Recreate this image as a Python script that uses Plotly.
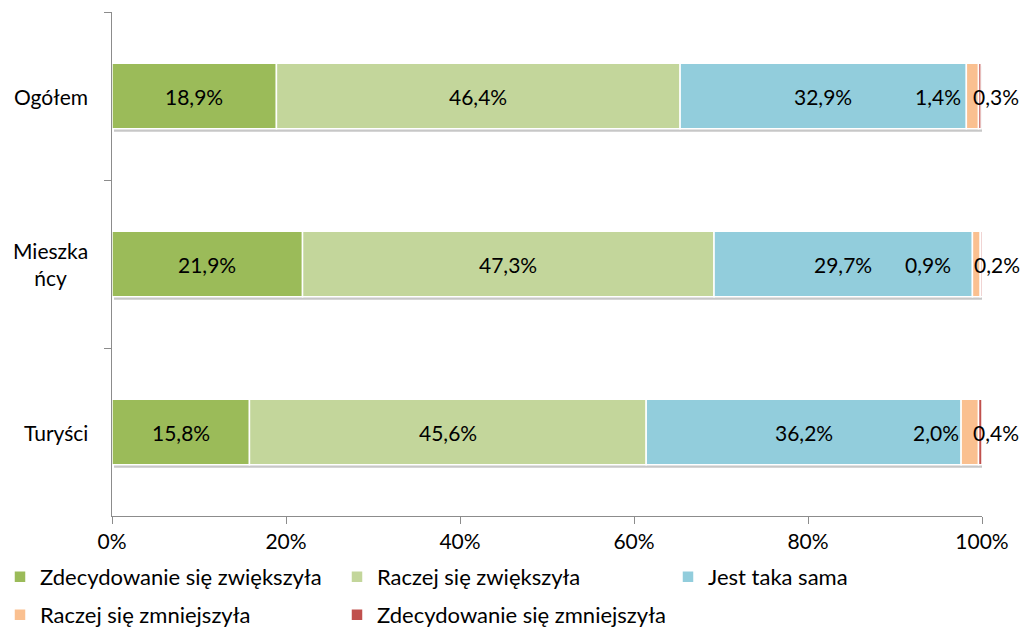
import plotly.graph_objects as go

# Category labels (top to bottom) and series shares in percent
categories = ["Ogółem", "Mieszka<br>ńcy", "Turyści"]
series_names = [
    "Zdecydowanie się zwiększyła",
    "Raczej się zwiększyła",
    "Jest taka sama",
    "Raczej się zmniejszyła",
    "Zdecydowanie się zmniejszyła",
]
zdecydowanie_zwiekszyla = [18.9, 21.9, 15.8]
raczej_zwiekszyla = [46.4, 47.3, 45.6]
taka_sama = [32.9, 29.7, 36.2]
raczej_zmniejszyla = [1.4, 0.9, 2.0]
zdecydowanie_zmniejszyla = [0.3, 0.2, 0.4]

x_ticks = [0, 20, 40, 60, 80, 100]

series_values = [
    zdecydowanie_zwiekszyla,
    raczej_zwiekszyla,
    taka_sama,
    raczej_zmniejszyla,
    zdecydowanie_zmniejszyla,
]
colors = ["#9BBB59", "#C3D69B", "#92CDDC", "#FAC090", "#C0504D"]
# legend block for each series: two rows, third column of the first row on its own
legend_slots = ["legend", "legend", "legend3", "legend2", "legend2"]

FONT = "Lato"
TXT = "#000000"
AXIS_GRAY = "#8C8C8C"
BAR_W = 0.39
PLOT_W, PLOT_H = 870, 504


def pct(v):
    return f"{v:.1f}".replace(".", ",") + "%"


n = len(categories)
totals = [sum(vals[i] for vals in series_values) for i in range(n)]

fig = go.Figure()

# Soft drop shadow under each full bar, nudged a few pixels right and down
fig.add_trace(go.Bar(
    y=categories,
    x=totals,
    base=[100 * 2 / PLOT_W] * n,
    orientation="h",
    width=BAR_W,
    offset=-BAR_W / 2 + 3 * n / PLOT_H,
    marker=dict(color="rgba(0,0,0,0.22)", line=dict(width=0)),
    showlegend=False,
    hoverinfo="skip",
))

# Stacked segments (bases accumulated from the series themselves)
cum = [0.0] * n
for name, vals, col, slot in zip(series_names, series_values, colors, legend_slots):
    fig.add_trace(go.Bar(
        y=categories,
        x=vals,
        base=list(cum),
        name=name,
        orientation="h",
        width=BAR_W,
        marker=dict(color=col, line=dict(color="white", width=1.5)),
        hoverinfo="skip",
        legend=slot,
    ))
    cum = [c + v for c, v in zip(cum, vals)]

# Data labels: the three large segments centred, the two small ones beside the bar end
annotations = []
small_shift = [-3, -19, 0]
label_font = dict(family=FONT, size=21, color=TXT)
for i, cat in enumerate(categories):
    c = 0.0
    for s, vals in enumerate(series_values):
        v = vals[i]
        if s < 3:
            annotations.append(dict(
                x=c + v / 2, y=cat, xref="x", yref="y", text=pct(v),
                showarrow=False, xanchor="center", yanchor="middle",
                font=label_font,
            ))
        elif s == 3:
            annotations.append(dict(
                x=c, y=cat, xref="x", yref="y", text=pct(v),
                showarrow=False, xanchor="right", yanchor="middle",
                xshift=small_shift[i], font=label_font,
            ))
        else:
            annotations.append(dict(
                x=c, y=cat, xref="x", yref="y", text=pct(v),
                showarrow=False, xanchor="left", yanchor="middle",
                xshift=-8, font=label_font,
            ))
        c += v

# Category names, centred line by line, to the left of the axis
for cat in categories:
    annotations.append(dict(
        x=0, y=cat, xref="paper", yref="y", text=cat,
        showarrow=False, xanchor="right", yanchor="middle", align="center",
        xshift=-22, font=dict(family=FONT, size=21, color=TXT),
    ))

legend_common = dict(
    orientation="h",
    xref="container", yref="container",
    xanchor="left", yanchor="top",
    entrywidth=292, entrywidthmode="pixels",
    itemwidth=30,
    traceorder="normal",
    font=dict(family=FONT, size=22, color=TXT),
    bgcolor="rgba(0,0,0,0)",
)

fig.update_layout(
    barmode="overlay",
    width=1020,
    height=630,
    margin=dict(l=112, r=38, t=12, b=114),
    paper_bgcolor="white",
    plot_bgcolor="white",
    font=dict(family=FONT, size=21, color=TXT),
    annotations=annotations,
    showlegend=True,
    legend=dict(legend_common, x=0.0, y=1 - 556 / 630),
    legend3=dict(legend_common, x=668 / 1020, y=1 - 556 / 630),
    legend2=dict(legend_common, x=0.0, y=1 - 594 / 630),
    xaxis=dict(
        range=[0, 100],
        tickvals=x_ticks,
        ticktext=[f"{t}%" for t in x_ticks],
        showgrid=False,
        zeroline=False,
        showline=True,
        linecolor=AXIS_GRAY,
        linewidth=1.2,
        ticks="outside",
        ticklen=7,
        tickcolor=AXIS_GRAY,
        tickfont=dict(family=FONT, size=21, color=TXT),
        automargin=False,
    ),
    yaxis=dict(
        autorange="reversed",
        type="category",
        showgrid=False,
        showline=True,
        linecolor=AXIS_GRAY,
        linewidth=1.2,
        ticks="outside",
        ticklen=7,
        tickcolor=AXIS_GRAY,
        tickson="boundaries",
        showticklabels=False,
        automargin=False,
    ),
)

fig.write_html("out.html")
